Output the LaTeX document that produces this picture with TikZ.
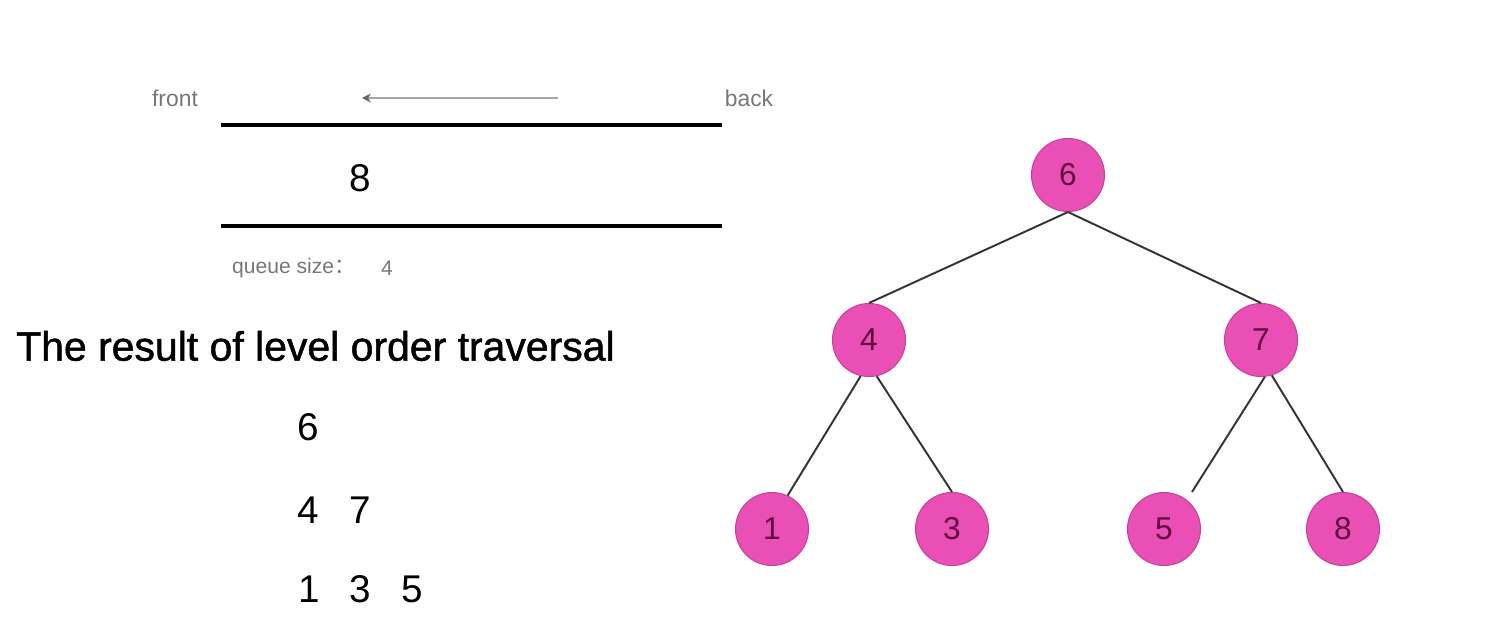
\documentclass[tikz,border=0pt]{standalone}
\usepackage{fontspec}
\setmainfont{Liberation Sans}
\newfontfamily\cjk{Noto Sans CJK SC}
\newfontfamily\headfont[FakeBold=1.2]{Liberation Sans}
\usetikzlibrary{positioning,calc,arrows.meta}
\definecolor{nodepink}{HTML}{E94FB5}
\definecolor{nodeedge}{HTML}{C8409A}
\definecolor{nodetext}{HTML}{5E0C40}
\definecolor{labelgray}{HTML}{777777}

\begin{document}
\begin{tikzpicture}[
    treenode/.style={circle,fill=nodepink,draw=nodeedge,line width=0.6pt,minimum size=1.46cm,inner sep=0pt,text=nodetext,font=\fontsize{18}{21}\selectfont},
    edge/.style={draw=black!80,line width=1.1pt},
    qlabel/.style={text=labelgray,font=\fontsize{13}{15}\selectfont},
    digit/.style={font=\fontsize{22}{26}\selectfont}
  ]
  \useasboundingbox (0,0) rectangle (30.04,-12.76);
  % Queue
  \node[qlabel] (front) at (3.50,-1.96) {front};
  \node[qlabel] (back) at (14.98,-1.96) {back};
  \coordinate (arrowstart) at (11.16,-1.96);
  \coordinate (arrowend) at (7.24,-1.96);
  \draw[-{Stealth[length=5pt,width=5pt,black!60]},black!35,line width=1.1pt] (arrowstart) -- (arrowend);
  \coordinate (qtopl) at (4.42,-2.50);
  \coordinate (qtopr) at (14.44,-2.50);
  \coordinate (qbotl) at (4.42,-4.52);
  \coordinate (qbotr) at (14.44,-4.52);
  \draw[line width=2.3pt] (qtopl) -- (qtopr);
  \draw[line width=2.3pt] (qbotl) -- (qbotr);
  \node[digit] (qitem) at (7.20,-3.56) {8};
  \node[qlabel,anchor=west,font=\fontsize{12}{14}\selectfont] (qsize) at (4.52,-5.36) {queue size{\cjk ：}};
  \node[qlabel,font=\fontsize{12}{14}\selectfont] (qcount) at (7.74,-5.36) {4};
  % Traversal result
  \node[anchor=west,font=\headfont\fontsize{23.3}{27}\selectfont] (title) at (0.20,-6.92) {The result of level order traversal};
  \node[digit] (r6) at (6.16,-8.54) {6};
  \node[digit] (r4) at (6.16,-10.20) {4};
  \node[digit] (r7) at (7.20,-10.20) {7};
  \node[digit] (r1) at (6.18,-11.78) {1};
  \node[digit] (r3) at (7.20,-11.78) {3};
  \node[digit] (r5) at (8.24,-11.78) {5};
  % Tree
  \node[treenode] (n6) at (21.36,-3.50) {6};
  \node[treenode] (n4) at (17.38,-6.80) {4};
  \node[treenode] (n7) at (25.22,-6.80) {7};
  \node[treenode] (n1) at (15.44,-10.58) {1};
  \node[treenode] (n3) at (19.04,-10.58) {3};
  \node[treenode] (n5) at (23.28,-10.58) {5};
  \node[treenode] (n8) at (26.86,-10.58) {8};
  \draw[edge] (n6.south) -- (n4.north);
  \draw[edge] (n6.south) -- (n7.north);
  \draw[edge] (n4.257) -- (n1.65);
  \draw[edge] (n4.282) -- (n3.north);
  \draw[edge] (n7.276) -- ($(n5.north)+(0.56,0)$);
  \draw[edge] (n7.287) -- (n8.north);
\end{tikzpicture}
\end{document}
